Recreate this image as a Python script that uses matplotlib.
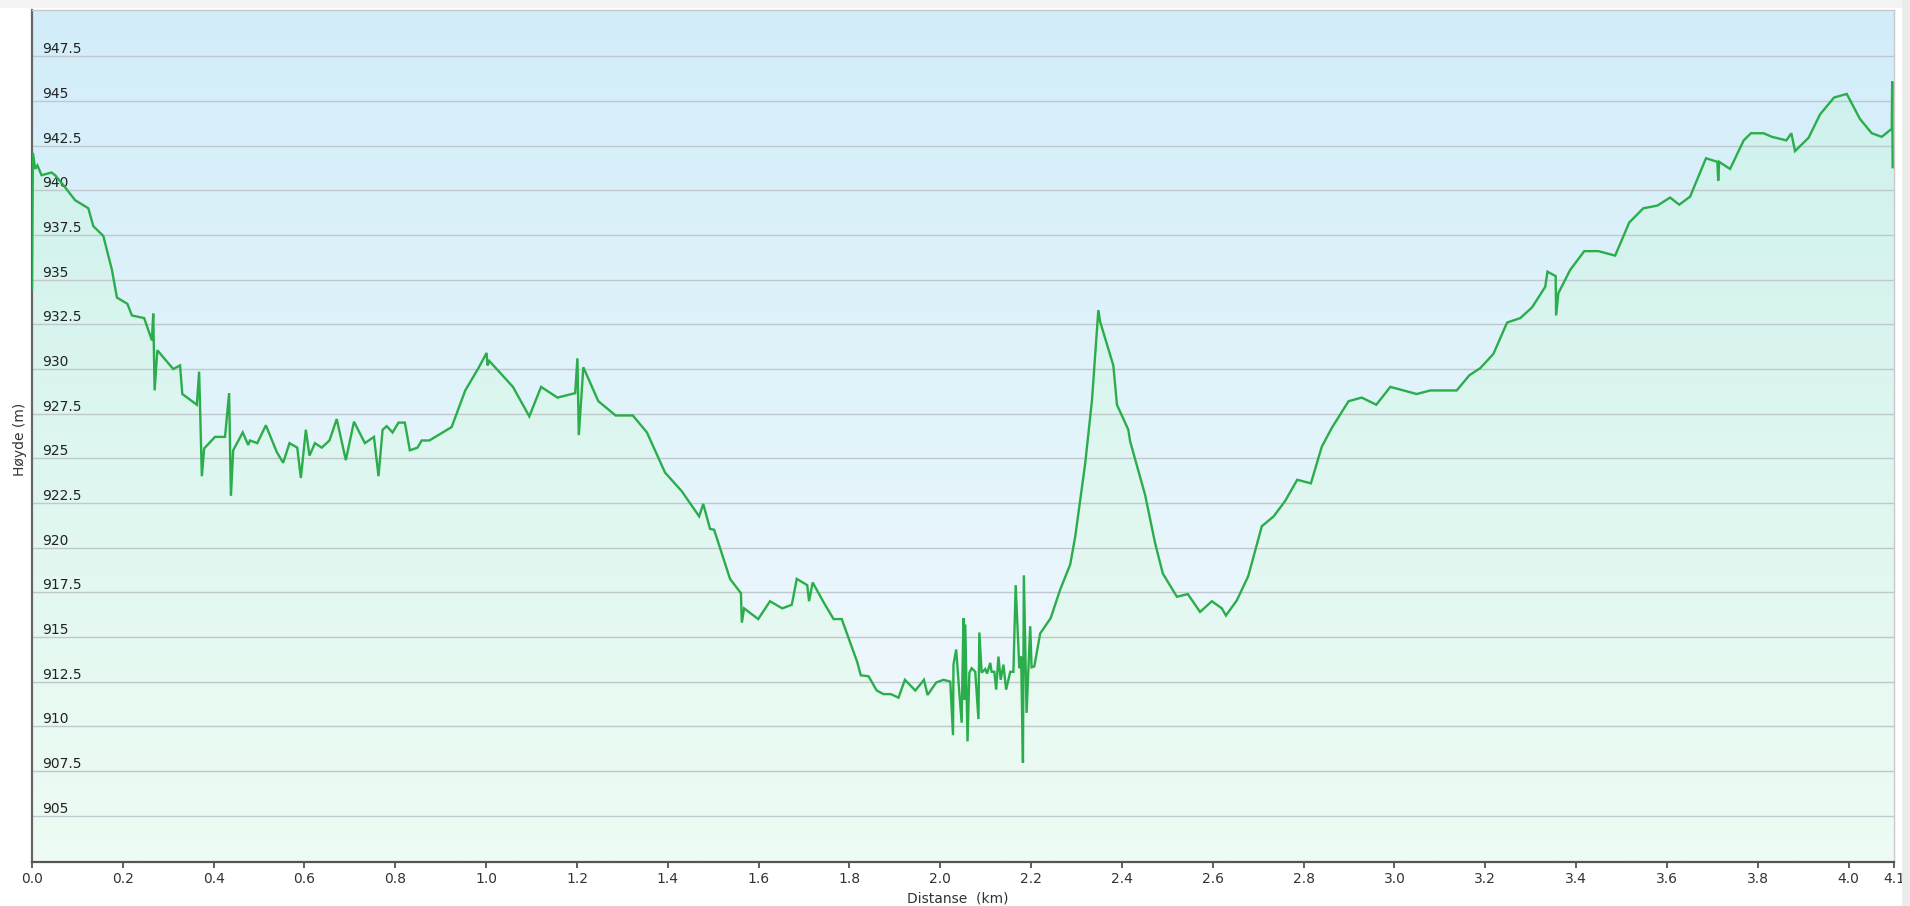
import numpy as np
import matplotlib
matplotlib.use("Agg")
import matplotlib.pyplot as plt
from matplotlib.patches import Polygon, Rectangle

# elevation profile (km, m)
distance_km = [
    0.000, 0.002, 0.007, 0.012, 0.021, 0.043, 0.051, 0.069, 0.095, 0.124,
    0.135, 0.157, 0.176, 0.187, 0.210, 0.220, 0.247, 0.264, 0.267, 0.270,
    0.276, 0.311, 0.326, 0.331, 0.363, 0.368, 0.374, 0.379, 0.403, 0.425,
    0.434, 0.438, 0.443, 0.464, 0.476, 0.480, 0.496, 0.515, 0.539, 0.553,
    0.567, 0.584, 0.592, 0.603, 0.611, 0.623, 0.638, 0.655, 0.671, 0.691,
    0.709, 0.733, 0.753, 0.763, 0.772, 0.781, 0.794, 0.807, 0.821, 0.832,
    0.849, 0.858, 0.875, 0.924, 0.954, 0.983, 1.001, 1.003, 1.007, 1.059,
    1.095, 1.121, 1.157, 1.196, 1.201, 1.204, 1.214, 1.247, 1.285, 1.323,
    1.354, 1.394, 1.431, 1.469, 1.478, 1.493, 1.502, 1.537, 1.561, 1.563,
    1.568, 1.599, 1.625, 1.652, 1.673, 1.684, 1.707, 1.711, 1.719, 1.744,
    1.765, 1.783, 1.817, 1.825, 1.842, 1.860, 1.875, 1.891, 1.908, 1.922,
    1.945, 1.964, 1.972, 1.991, 2.007, 2.022, 2.028, 2.029, 2.035, 2.042,
    2.047, 2.051, 2.053, 2.055, 2.060, 2.064, 2.069, 2.077, 2.084, 2.086,
    2.091, 2.099, 2.103, 2.110, 2.113, 2.119, 2.123, 2.128, 2.133, 2.139,
    2.145, 2.154, 2.161, 2.166, 2.174, 2.178, 2.182, 2.184, 2.188, 2.190,
    2.198, 2.201, 2.207, 2.220, 2.243, 2.264, 2.286, 2.297, 2.319, 2.334,
    2.348, 2.352, 2.381, 2.389, 2.414, 2.418, 2.451, 2.473, 2.490, 2.521,
    2.545, 2.572, 2.598, 2.620, 2.629, 2.653, 2.678, 2.708, 2.734, 2.759,
    2.786, 2.816, 2.840, 2.862, 2.899, 2.928, 2.960, 2.991, 3.049, 3.079,
    3.137, 3.165, 3.189, 3.218, 3.248, 3.277, 3.303, 3.332, 3.337, 3.355,
    3.356, 3.361, 3.387, 3.418, 3.449, 3.486, 3.517, 3.548, 3.579, 3.607,
    3.627, 3.651, 3.686, 3.711, 3.713, 3.715, 3.739, 3.769, 3.785, 3.813,
    3.831, 3.863, 3.874, 3.882, 3.912, 3.937, 3.968, 3.996, 4.025, 4.051,
    4.073, 4.095, 4.096, 4.097,
]
elevation_m = [
    934.5, 942.1, 941.2, 941.4, 940.85, 941.0, 940.85, 940.3, 939.45, 939.0,
    938.0, 937.45, 935.55, 934.0, 933.65, 933.0, 932.85, 931.6, 933.1, 928.8,
    931.05, 930.0, 930.2, 928.6, 928.0, 929.85, 924.0, 925.55, 926.2, 926.2,
    928.65, 922.9, 925.45, 926.45, 925.75, 926.0, 925.85, 926.85, 925.35, 924.75,
    925.85, 925.6, 923.9, 926.6, 925.15, 925.85, 925.6, 926.0, 927.2, 924.9,
    927.05, 925.85, 926.2, 924.0, 926.6, 926.8, 926.45, 927.0, 927.0, 925.45,
    925.6, 926.0, 926.0, 926.75, 928.8, 930.05, 930.9, 930.2, 930.45, 929.0,
    927.35, 929.0, 928.4, 928.65, 930.6, 926.3, 930.1, 928.2, 927.4, 927.4,
    926.45, 924.2, 923.15, 921.75, 922.45, 921.05, 921.0, 918.25, 917.45, 915.8,
    916.6, 916.0, 917.0, 916.6, 916.8, 918.25, 917.9, 917.0, 918.05, 916.9,
    916.0, 916.0, 913.6, 912.85, 912.8, 912.0, 911.8, 911.8, 911.6, 912.6,
    912.0, 912.6, 911.75, 912.45, 912.6, 912.5, 909.5, 913.45, 914.3, 911.85,
    910.2, 916.05, 911.5, 915.7, 909.15, 913.0, 913.25, 913.05, 910.4, 915.25,
    913.0, 913.2, 912.95, 913.55, 913.05, 913.05, 912.05, 913.9, 912.6, 913.45,
    912.05, 913.05, 913.05, 917.9, 913.25, 913.9, 907.95, 918.45, 913.15, 910.75,
    915.6, 913.3, 913.35, 915.2, 916.05, 917.65, 919.05, 920.6, 924.7, 928.25,
    933.3, 932.65, 930.2, 928.0, 926.6, 925.95, 922.95, 920.25, 918.55, 917.25,
    917.4, 916.4, 917.0, 916.6, 916.2, 917.05, 918.4, 921.2, 921.75, 922.6,
    923.8, 923.6, 925.65, 926.7, 928.2, 928.4, 928.0, 929.0, 928.6, 928.8,
    928.8, 929.65, 930.05, 930.85, 932.6, 932.85, 933.45, 934.6, 935.45, 935.2,
    933.0, 934.25, 935.55, 936.6, 936.6, 936.35, 938.2, 939.0, 939.15, 939.6,
    939.2, 939.65, 941.8, 941.6, 940.55, 941.6, 941.2, 942.8, 943.2, 943.2,
    943.0, 942.8, 943.2, 942.2, 942.95, 944.25, 945.2, 945.4, 944.0, 943.2,
    943.0, 943.45, 946.1, 941.3,
]

x_ticks = [0.0, 0.2, 0.4, 0.6, 0.8, 1.0, 1.2, 1.4, 1.6, 1.8, 2.0,
           2.2, 2.4, 2.6, 2.8, 3.0, 3.2, 3.4, 3.6, 3.8, 4.0, 4.1]
y_ticks = [905, 907.5, 910, 912.5, 915, 917.5, 920, 922.5, 925, 927.5,
           930, 932.5, 935, 937.5, 940, 942.5, 945, 947.5]
y_tick_labels = ["905", "907.5", "910", "912.5", "915", "917.5", "920",
                 "922.5", "925", "927.5", "930", "932.5", "935", "937.5",
                 "940", "942.5", "945", "947.5"]

x_min, x_max = 0.0, 4.1
y_min, y_max = 902.4, 950.1

fig = plt.figure(figsize=(19.1, 9.06), dpi=100, facecolor="white")
fig.patches.append(Rectangle((0, 1 - 8 / 906), 1, 8 / 906, transform=fig.transFigure,
                             facecolor="#f3f3f3", edgecolor="none"))
fig.patches.append(Rectangle((1902 / 1910, 0), 8 / 1910, 1, transform=fig.transFigure,
                             facecolor="#ebebeb", edgecolor="none"))

ax = fig.add_axes([32 / 1910, 1 - 862 / 906, 1862 / 1910, 852 / 906])

# plot-area background: light blue at top fading to almost white
t = np.linspace(0, 1, 256)[:, None]
top = np.array([210, 237, 249]) / 255
bot = np.array([244, 251, 253]) / 255
bg = top + (bot - top) * t[..., None]
bg = np.repeat(bg, 2, axis=1)
ax.imshow(bg, extent=[x_min, x_max, y_min, y_max], aspect="auto",
          origin="upper", zorder=0, interpolation="bilinear")

# area under the profile: soft mint gradient clipped to the profile shape
ftop = np.array([204, 240, 237]) / 255
fbot = np.array([238, 252, 243]) / 255
fill = ftop + (fbot - ftop) * t[..., None]
fill = np.repeat(fill, 2, axis=1)
verts = [(distance_km[0], y_min)] + list(zip(distance_km, elevation_m)) + [(distance_km[-1], y_min)]
area = Polygon(verts, closed=True, facecolor="none", edgecolor="none")
ax.add_patch(area)
im = ax.imshow(fill, extent=[x_min, x_max, y_min, y_max], aspect="auto",
               origin="upper", zorder=1, interpolation="bilinear")
im.set_clip_path(area)

for yv in y_ticks:
    ax.axhline(yv, color="#bfc8cc", lw=1.0, zorder=2)

ax.plot(distance_km, elevation_m, color="#2aad4a", lw=1.7, zorder=3,
        solid_joinstyle="miter")

ax.set_xlim(x_min, x_max)
ax.set_ylim(y_min, y_max)

ax.set_xticks(x_ticks)
ax.set_xticklabels([f"{v:.1f}" for v in x_ticks])
ax.tick_params(axis="x", direction="out", length=4.5, width=1.2, color="#444444",
               pad=3, labelsize=10, labelcolor="#333333")

ax.set_yticks(y_ticks)
ax.set_yticklabels(y_tick_labels)
ax.tick_params(axis="y", length=0, pad=-7, labelsize=10, labelcolor="#222222")
for lab in ax.get_yticklabels():
    lab.set_horizontalalignment("left")
    lab.set_verticalalignment("bottom")

ax.spines["left"].set_color("#666666")
ax.spines["left"].set_linewidth(1.6)
ax.spines["bottom"].set_color("#555555")
ax.spines["bottom"].set_linewidth(1.6)
for s in ("top", "right"):
    ax.spines[s].set_color("#c8c8c8")
    ax.spines[s].set_linewidth(1.0)

fig.text(20 / 1910, 1 - 439 / 906, "Høyde (m)", rotation=90, ha="center",
         va="center", fontsize=10, color="#333333")
fig.text(958 / 1910, 1 - 891 / 906, "Distanse  (km)", ha="center", va="top",
         fontsize=10, color="#333333")

fig.savefig("out.png", dpi=100, facecolor=fig.get_facecolor())
